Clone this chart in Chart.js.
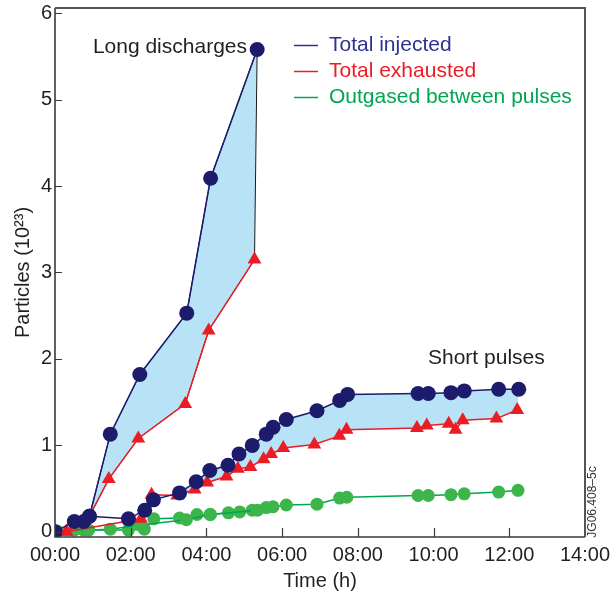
<!DOCTYPE html>
<html>
<head>
<meta charset="utf-8">
<script src="https://cdn.jsdelivr.net/npm/chart.js@4"></script>
<style>
  html, body { margin: 0; padding: 0; background: #fff; }
  #wrap { width: 613px; height: 599px; }
</style>
</head>
<body>
<div id="wrap"><canvas id="particlesChart"></canvas></div>
<script>
// [time (h), particles (1e23)]
const longInjected = [[0, 0], [0.51, 0.12], [0.76, 0.12], [0.91, 0.18], [1.46, 1.13], [2.24, 1.82], [3.48, 2.53], [4.11, 4.09], [5.34, 5.58]];
const longExhausted = [[0.3, 0], [0.91, 0.18], [1.42, 0.61], [2.2, 1.08], [3.44, 1.48], [4.06, 2.33], [5.27, 3.15]];
const longOutgased = [[0.05, 0.01], [0.51, 0.02], [0.89, 0.02], [1.46, 0.03], [2.25, 0.08], [3.47, 0.14], [4.11, 0.2], [5.35, 0.25]];

const shortInjected = [[0.91, 0.18], [1.94, 0.15], [2.37, 0.25], [2.6, 0.37], [3.29, 0.45], [3.73, 0.58], [4.09, 0.71], [4.57, 0.77], [4.86, 0.9], [5.21, 1.0], [5.58, 1.13], [5.76, 1.21], [6.11, 1.3], [6.92, 1.4], [7.52, 1.52], [7.73, 1.59], [9.59, 1.6], [9.86, 1.6], [10.46, 1.61], [10.81, 1.63], [11.72, 1.65], [12.25, 1.65]];
const shortExhausted = [[0.3, 0], [2.27, 0.15], [2.55, 0.43], [3.23, 0.42], [3.69, 0.49], [4.02, 0.57], [4.53, 0.64], [4.83, 0.73], [5.16, 0.75], [5.51, 0.84], [5.71, 0.9], [6.03, 0.97], [6.85, 1.01], [7.51, 1.11], [7.7, 1.18], [9.56, 1.2], [9.82, 1.23], [10.4, 1.25], [10.58, 1.18], [10.77, 1.29], [11.66, 1.31], [12.21, 1.41]];
const shortOutgased = [[0.76, 0.02], [1.94, 0.02], [2.36, 0.03], [2.61, 0.15], [3.29, 0.16], [3.75, 0.2], [4.09, 0.2], [4.58, 0.22], [4.88, 0.23], [5.21, 0.25], [5.58, 0.28], [5.76, 0.29], [6.11, 0.31], [6.92, 0.32], [7.52, 0.39], [7.71, 0.4], [9.59, 0.42], [9.86, 0.42], [10.46, 0.43], [10.81, 0.44], [11.72, 0.46], [12.23, 0.48]];

const xTickLabels = ['00:00', '02:00', '04:00', '06:00', '08:00', '10:00', '12:00', '14:00'];
const yTickValues = [0, 1, 2, 3, 4, 5, 6];
const legendLabels = ['Total injected', 'Total exhausted', 'Outgased between pulses'];

const NAVY = '#1d1b6c';
const RED = '#ec1c24';
const GREEN = '#3cb54a';
const GREEN_LINE = '#00a651';
const BAND = '#b8e2f6';
const TEXT = '#231f20';
const FONT = '"Liberation Sans", Arial, sans-serif';

const toXY = pts => pts.map(([x, y]) => ({x, y}));
// closed outline between an upper and a lower series, starting where they part
const band = (upper, lower, from) =>
  toXY(upper.filter(p => p[0] >= from).concat(lower.filter(p => p[0] >= from).reverse()));

const injectedStyle = {
  borderColor: NAVY, borderWidth: 1.5,
  pointStyle: 'circle', pointRadius: 7.5,
  pointBackgroundColor: NAVY, pointBorderColor: NAVY, pointBorderWidth: 0
};
const exhaustedStyle = {
  borderColor: RED, borderWidth: 1.5,
  pointStyle: 'triangle', pointRadius: 8,
  pointBackgroundColor: RED, pointBorderColor: RED, pointBorderWidth: 0
};
const outgasedStyle = {
  borderColor: GREEN_LINE, borderWidth: 1.5,
  pointStyle: 'circle', pointRadius: 6.5,
  pointBackgroundColor: GREEN, pointBorderColor: GREEN, pointBorderWidth: 0
};

// inward tick marks, frame, legend and notes
const decorations = {
  id: 'decorations',
  afterDatasetsDraw(chart) {
    const {ctx, chartArea: a, scales: {x, y}} = chart;
    ctx.save();
    ctx.strokeStyle = '#3a3a3a';
    ctx.lineWidth = 1.2;
    ctx.beginPath();
    x.ticks.forEach(t => {
      const px = Math.round(x.getPixelForValue(t.value)) + 0.5;
      if (t.value > 0 && t.value < 14) { ctx.moveTo(px, a.bottom); ctx.lineTo(px, a.bottom - 9); }
    });
    y.ticks.forEach(t => {
      const py = Math.round(y.getPixelForValue(t.value)) + 0.5;
      ctx.moveTo(a.left, py); ctx.lineTo(a.left + 7, py);
    });
    ctx.stroke();

    ctx.lineWidth = 1.6;
    ctx.strokeStyle = '#3a3a3a';
    ctx.beginPath();
    ctx.moveTo(a.left, a.top); ctx.lineTo(a.left, a.bottom); ctx.lineTo(a.right, a.bottom);
    ctx.stroke();
    ctx.strokeStyle = '#555';
    ctx.lineWidth = 2;
    ctx.beginPath();
    ctx.moveTo(a.left, a.top); ctx.lineTo(a.right, a.top); ctx.lineTo(a.right, a.bottom);
    ctx.stroke();
    ctx.restore();
  },
  afterDraw(chart) {
    const {ctx} = chart;
    ctx.save();
    ctx.font = '21px ' + FONT;
    ctx.textBaseline = 'middle';

    const colours = ['#2e3192', RED, GREEN_LINE];
    legendLabels.forEach((label, i) => {
      const yy = 45 + i * 26;
      ctx.strokeStyle = colours[i];
      ctx.lineWidth = 1.5;
      ctx.beginPath();
      ctx.moveTo(294, yy + 0.5); ctx.lineTo(318, yy + 0.5);
      ctx.stroke();
      ctx.fillStyle = colours[i];
      ctx.textAlign = 'left';
      ctx.fillText(label, 329, yy);
    });

    ctx.fillStyle = TEXT;
    ctx.textAlign = 'right';
    ctx.fillText('Long discharges', 247, 47);
    ctx.textAlign = 'left';
    ctx.fillText('Short pulses', 428, 358);

    ctx.font = '12px ' + FONT;
    ctx.fillStyle = '#333';
    ctx.translate(593, 502);
    ctx.rotate(-Math.PI / 2);
    ctx.textAlign = 'center';
    ctx.fillText('JG06.408\u20135c', 0, 0);
    ctx.restore();
  }
};

new Chart(document.getElementById('particlesChart'), {
  type: 'scatter',
  data: {
    datasets: [
      {data: toXY(longInjected), showLine: true, ...injectedStyle},
      {data: toXY(shortInjected), showLine: true, ...injectedStyle},
      {data: toXY(longExhausted), showLine: true, ...exhaustedStyle},
      {data: toXY(shortExhausted), showLine: true, ...exhaustedStyle},
      {data: toXY(longOutgased), showLine: true, ...outgasedStyle},
      {data: toXY(shortOutgased), showLine: true, ...outgasedStyle},
      {
        data: band(longInjected, longExhausted, 0.91), showLine: true, fill: 'shape',
        backgroundColor: BAND, borderColor: '#1a1a1a', borderWidth: 1, pointRadius: 0
      },
      {
        data: band(shortInjected, shortExhausted, 2.37), showLine: true, fill: 'shape',
        backgroundColor: BAND, borderColor: BAND, borderWidth: 0, pointRadius: 0
      }
    ]
  },
  options: {
    responsive: true,
    maintainAspectRatio: false,
    animation: false,
    layout: {
      padding: {top: 7, right: 28, left: 0, bottom: 0}
    },
    plugins: {
      legend: {display: false},
      tooltip: {enabled: false}
    },
    scales: {
      x: {
        type: 'linear',
        min: 0,
        max: 14,
        afterFit: s => { s.height = 62; s.paddingLeft = 0; s.paddingRight = 0; },
        grid: {display: false, drawTicks: false},
        border: {display: false},
        ticks: {
          stepSize: 2,
          padding: 6,
          color: TEXT,
          font: {family: FONT, size: 20},
          maxRotation: 0,
          callback: v => xTickLabels[v / 2]
        },
        title: {
          display: true,
          text: 'Time (h)',
          color: TEXT,
          font: {family: FONT, size: 20},
          padding: {top: 0, bottom: 6}
        }
      },
      y: {
        min: -0.06,
        max: 6.06,
        afterBuildTicks: s => { s.ticks = yTickValues.map(v => ({value: v})); },
        afterFit: s => { s.width = 55; s.paddingTop = 0; s.paddingBottom = 0; },
        grid: {display: false, drawTicks: false},
        border: {display: false},
        ticks: {
          padding: 3,
          color: TEXT,
          font: {family: FONT, size: 20}
        },
        title: {
          display: true,
          text: 'Particles (10\u00b2\u00b3)',
          color: TEXT,
          font: {family: FONT, size: 20},
          padding: {top: 11, bottom: 0}
        }
      }
    }
  },
  plugins: [decorations]
});
</script>
</body>
</html>
